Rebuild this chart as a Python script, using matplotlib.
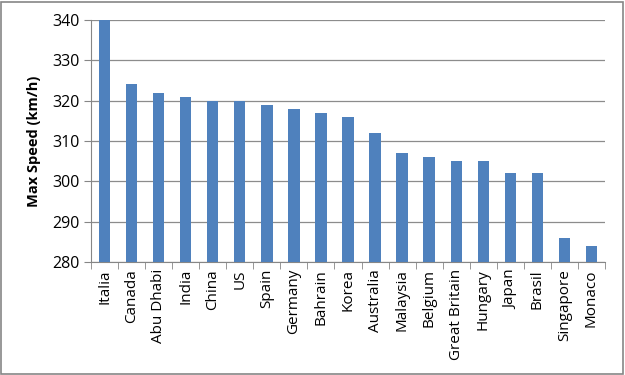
import numpy as np
import matplotlib
matplotlib.use('Agg')
import matplotlib.pyplot as plt
from matplotlib.patches import Rectangle

countries = ['Italia', 'Canada', 'Abu Dhabi', 'India', 'China', 'US', 'Spain',
             'Germany', 'Bahrain', 'Korea', 'Australia', 'Malaysia', 'Belgium',
             'Great Britain', 'Hungary', 'Japan', 'Brasil', 'Singapore', 'Monaco']
max_speed = [340, 324, 322, 321, 320, 320, 319, 318, 317, 316, 312, 307, 306,
             305, 305, 302, 302, 286, 284]
y_ticks = [280, 290, 300, 310, 320, 330, 340]

plt.rcParams['font.family'] = ['Open Sans', 'DejaVu Sans']

fig = plt.figure(figsize=(6.25, 3.75), dpi=100)
ax = fig.add_axes([0.1456, 0.301, 0.8224, 0.646])

x = np.arange(len(countries))
ax.bar(x, max_speed, width=0.42, color='#4F81BD', zorder=3)

ax.set_ylim(280, 340)
ax.set_xlim(-0.5, len(countries) - 0.5)
ax.set_yticks(y_ticks)
ax.tick_params(axis='y', labelsize=11.5, length=5, color='#868686', pad=3)
ax.yaxis.grid(True, color='#8c8c8c', linewidth=0.9, zorder=0)

ax.set_xticks(x)
ax.set_xticklabels(countries, rotation=90, fontsize=11)
ax.set_xticks(np.arange(-0.5, len(countries)), minor=True)
ax.tick_params(axis='x', which='major', length=0, pad=5)
ax.tick_params(axis='x', which='minor', length=5, color='#868686')

for s in ['top', 'right']:
    ax.spines[s].set_visible(False)
for s in ['left', 'bottom']:
    ax.spines[s].set_color('#868686')

ax.set_ylabel('Max Speed (km/h)', fontsize=10.5, fontweight='bold', labelpad=8)

fig.patches.append(Rectangle((0.002, 0.003), 0.995, 0.993, transform=fig.transFigure,
                             fill=False, edgecolor='#868686', linewidth=1.2))

fig.savefig('out.png', dpi=100)
